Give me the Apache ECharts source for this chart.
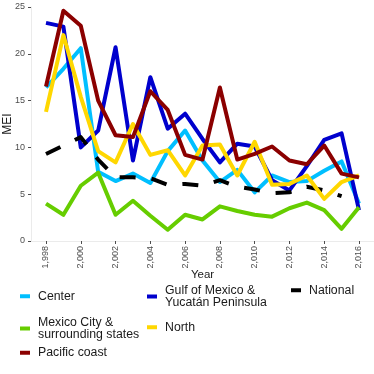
<!DOCTYPE html>
<html>
<head>
<meta charset="utf-8">
<script src="https://cdn.jsdelivr.net/npm/echarts@6/dist/echarts.min.js"></script>
<style>
html, body { margin: 0; padding: 0; background: #fff; }
#chart { width: 374px; height: 374px; }
</style>
</head>
<body>
<div id="chart"></div>
<script>
// years and MEI per region
var years = [1998, 1999, 2000, 2001, 2002, 2003, 2004, 2005, 2006, 2007, 2008, 2009, 2010, 2011, 2012, 2013, 2014, 2015, 2016];
var xTicks = [1998, 2000, 2002, 2004, 2006, 2008, 2010, 2012, 2014, 2016];
var yTicks = [0, 5, 10, 15, 20, 25];

var center = [16.4, 18.4, 20.6, 7.4, 6.4, 7.2, 6.2, 9.6, 11.8, 8.6, 6.3, 7.6, 5.2, 7.0, 6.3, 6.4, 7.5, 8.5, 4.0];
var gulf = [23.3, 22.9, 10.0, 11.8, 20.7, 8.6, 17.5, 12.0, 13.6, 10.9, 8.4, 10.4, 10.1, 6.5, 5.4, 8.0, 10.8, 11.5, 3.3];
var mexicoCity = [4.0, 2.8, 5.9, 7.3, 2.8, 4.3, 2.7, 1.2, 2.8, 2.3, 3.7, 3.2, 2.8, 2.6, 3.5, 4.1, 3.3, 1.3, 3.6];
// no visible national point for 2016
var national = [9.3, 10.2, 11.1, 8.7, 6.8, 6.8, 6.7, 6.0, 6.1, 5.9, 6.5, 5.8, 5.5, 5.1, 5.2, 5.8, 5.4, 4.8, null];
var north = [13.8, 22.0, 15.4, 9.6, 8.4, 12.5, 9.2, 9.7, 7.0, 10.2, 10.3, 7.0, 10.6, 6.0, 6.1, 7.0, 4.5, 6.3, 7.0];
var pacific = [16.5, 24.6, 23.0, 15.0, 11.3, 11.1, 16.0, 14.0, 9.2, 8.7, 16.4, 8.7, 9.3, 10.1, 8.6, 8.2, 10.2, 7.2, 6.8];

var names = ['Center', 'Gulf of Mexico &\nYucatán Peninsula', 'Mexico City &\nsurrounding states', 'National', 'North', 'Pacific coast'];
var colors = ['#00BFFF', '#0000CD', '#66CD00', '#000000', '#FFD700', '#8B0000'];
var values = [center, gulf, mexicoCity, national, north, pacific];

var font = '"Liberation Sans", Arial, sans-serif';

function pairs(vals) {
	return years.map(function (y, i) { return [y, vals[i]]; });
}

var series = names.map(function (n, i) {
	return {
		name: n,
		type: 'line',
		data: pairs(values[i]),
		showSymbol: false,
		symbol: 'none',
		color: colors[i],
		lineStyle: {
			color: colors[i],
			width: 4,
			type: i === 3 ? [16, 16] : 'solid',
			join: 'round',
			cap: 'butt'
		}
	};
});

// one legend block per entry so the 3-column layout can be placed by hand
var legendPos = [
	[20, 290], [147, 284], [20, 316],
	[291, 284], [147, 321], [20, 346.5]
];
var legends = names.map(function (n, i) {
	return {
		data: [n],
		left: legendPos[i][0],
		top: legendPos[i][1],
		padding: 0,
		icon: 'rect',
		itemWidth: 10,
		itemHeight: 4,
		selectedMode: false,
		textStyle: {
			fontFamily: font,
			fontSize: 12.3,
			lineHeight: 12.5,
			color: '#1a1a1a',
			padding: [0, 0, 0, 3]
		}
	};
});

var chart = echarts.init(document.getElementById('chart'));
var option = {
	animation: false,
	backgroundColor: '#fff',
	grid: { left: 31, right: 0, top: 7, bottom: 133, containLabel: false, outerBoundsMode: 'none' },
	legend: legends,
	xAxis: {
		type: 'value',
		min: 1997.137,
		max: 2016.863,
		name: 'Year',
		nameLocation: 'middle',
		nameGap: 28,
		nameMoveOverlap: false,
		nameTextStyle: { fontFamily: font, fontSize: 11.5, color: '#1a1a1a' },
		splitLine: { show: false },
		axisLine: { show: true, lineStyle: { color: '#ebebeb', width: 1 } },
		axisTick: { show: true, customValues: xTicks, length: 3, lineStyle: { color: '#4d4d4d' } },
		axisLabel: {
			customValues: xTicks,
			rotate: 90,
			margin: 5,
			fontFamily: font,
			fontSize: 9,
			color: '#4d4d4d'
		}
	},
	yAxis: {
		type: 'value',
		min: 0,
		max: 25,
		name: 'MEI',
		nameLocation: 'middle',
		nameGap: 17,
		nameMoveOverlap: false,
		nameTextStyle: { fontFamily: font, fontSize: 12, color: '#1a1a1a' },
		splitLine: { show: false },
		axisLine: { show: true, lineStyle: { color: '#ebebeb', width: 1 } },
		axisTick: { show: true, customValues: yTicks, length: 3, lineStyle: { color: '#4d4d4d' } },
		axisLabel: {
			customValues: yTicks,
			margin: 6,
			fontFamily: font,
			fontSize: 9,
			color: '#4d4d4d'
		}
	},
	series: series
};
option && chart.setOption(option);
</script>
</body>
</html>
